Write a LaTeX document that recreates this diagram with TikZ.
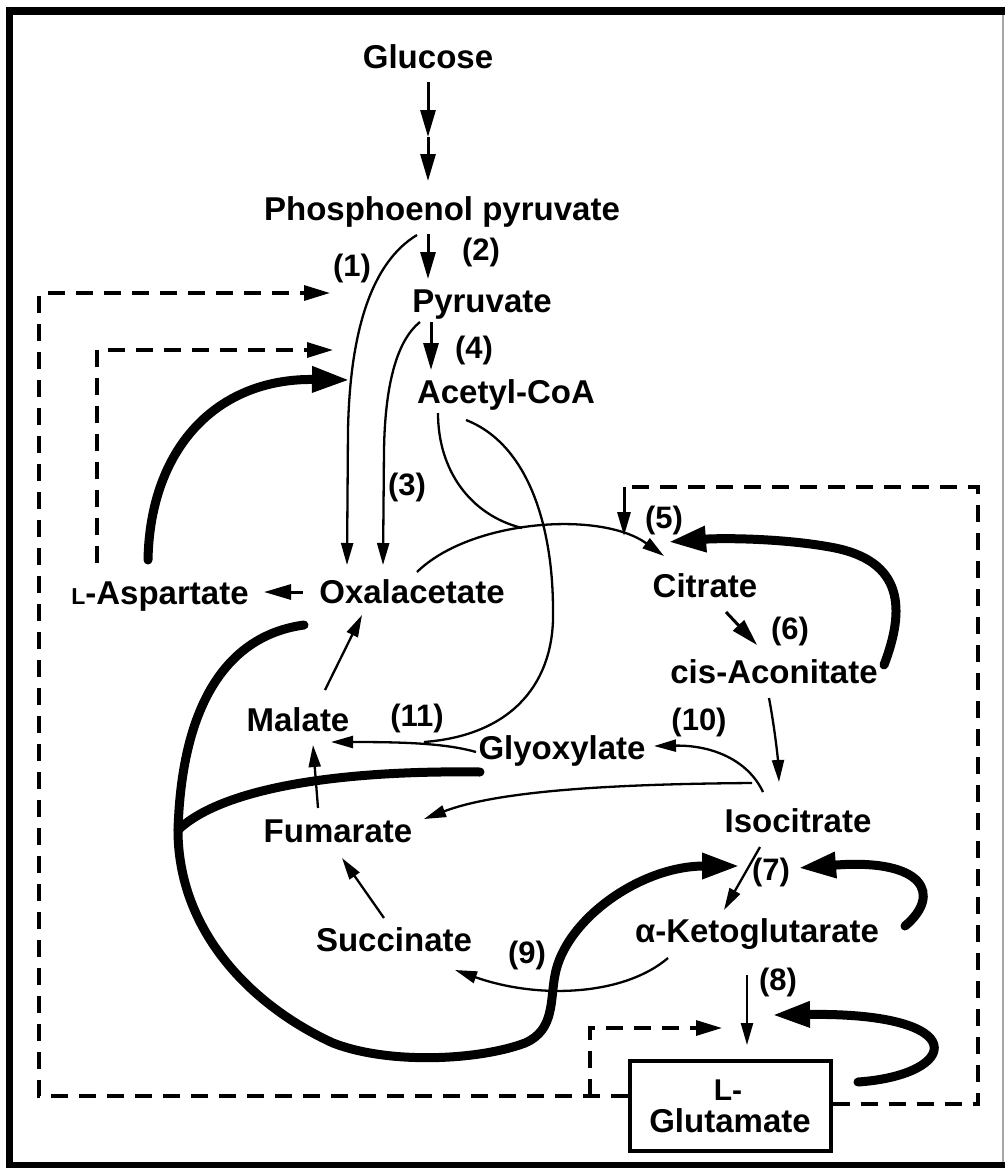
\documentclass[tikz,border=0pt]{standalone}
\usepackage{fontspec}
\setmainfont{Liberation Sans}
\usetikzlibrary{arrows.meta}
\begin{document}
\begin{tikzpicture}[x=1pt,y=-1pt,
  metab/.style={font=\fontsize{33}{36}\selectfont\bfseries, inner sep=0pt, anchor=base},
  lab/.style={font=\fontsize{31}{34}\selectfont\bfseries, inner sep=0pt},
  thinln/.style={line width=2.3pt},
  arr/.style={thinln, -{Triangle[length=22pt,width=12pt]}},
  bigarr/.style={line width=3pt, -{Triangle[length=27pt,width=15pt]}},
  heavy/.style={line width=9pt, line cap=round},
  heavyarr/.style={heavy, -{Triangle[length=38pt,width=24pt]}},
  dashline/.style={line width=3.2pt, dash pattern=on 17pt off 11pt},
  dasharr/.style={dashline, -{Triangle[length=26pt,width=15pt]}}
]
\useasboundingbox (0,0) rectangle (1005,1168);
% frame
\fill[white] (0,0) rectangle (1005,1168);
\fill[black] (6,7) rectangle (1005,15);
\fill[black] (6,7) rectangle (13,1168);
\fill[black] (6,1162) rectangle (1005,1168);
\draw[black!35, line width=2pt] (1003,15) -- (1003,1162);

% metabolites
\node[metab] (glucose) at (428,68) {Glucose};
\node[metab] (pep) at (442,220) {Phosphoenol pyruvate};
\node[metab] (pyr) at (482,312) {Pyruvate};
\node[metab] (acoa) at (506,403) {Acetyl-CoA};
\node[metab] (oxal) at (412,603) {Oxalacetate};
\node[metab] (asp) at (160,604) {{\fontsize{23}{25}\selectfont L}-Aspartate};
\node[metab] (cit) at (705,597) {Citrate};
\node[metab] (cis) at (774,683) {cis-Aconitate};
\node[metab] (mal) at (298,731) {Malate};
\node[metab] (glyox) at (562,759) {Glyoxylate};
\node[metab] (fum) at (338,842) {Fumarate};
\node[metab] (iso) at (798,832) {Isocitrate};
\node[metab] (succ) at (394,951) {Succinate};
\node[metab] (akg) at (757,942) {α-Ketoglutarate};
\node[draw, line width=4pt, minimum width=201pt, minimum height=90pt, inner sep=0pt] (glut) at (730,1106) {};
\node[anchor=base, inner sep=0pt, font=\fontsize{30}{32}\selectfont\bfseries] (glutL) at (728,1100) {L-};
\node[metab] (glutG) at (730,1132) {Glutamate};

% reaction labels
\node[lab] (r1) at (352,268) {(1)};
\node[lab] (r2) at (481,252) {(2)};
\node[lab] (r3) at (407,487) {(3)};
\node[lab] (r4) at (474,350) {(4)};
\node[lab] (r5) at (664,520) {(5)};
\node[lab] (r6) at (790,631) {(6)};
\node[lab] (r7) at (771,872) {(7)};
\node[lab] (r8) at (778,982) {(8)};
\node[lab] (r9) at (527,955) {(9)};
\node[lab] (r10) at (699,722) {(10)};
\node[lab] (r11) at (417,718) {(11)};

% coordinates
\coordinate (g0) at (428,82);
\coordinate (g1) at (428,137);
\coordinate (g2) at (428,181);
\coordinate (pepS) at (428,234);
\coordinate (pyrN) at (428,279);
\coordinate (pyrS) at (431,322);
\coordinate (acoaN) at (431,370);
\coordinate (pepL) at (417,235);
\coordinate (pyrL) at (420,322);
\coordinate (oxN1) at (347,565);
\coordinate (oxN2) at (383,565);
\coordinate (oxE) at (303,592);
\coordinate (aspE) at (264,592);
\coordinate (oxR) at (417,572);
\coordinate (citW) at (664,556);
\coordinate (acoaS) at (438,413);
\coordinate (join5) at (522,528);
\coordinate (acoaS2) at (466,420);
\coordinate (join11) at (424,742);
\coordinate (glyoxW) at (476,752);
\coordinate (malE) at (331,742);
\coordinate (malN) at (325,690);
\coordinate (oxS) at (362,615);
\coordinate (fumN) at (318,808);
\coordinate (malS) at (313,745);
\coordinate (succN) at (384,918);
\coordinate (fumS) at (342,858);
\coordinate (citS) at (726,612);
\coordinate (cisN) at (757,645);
\coordinate (cisS) at (769,698);
\coordinate (isoN) at (779,782);
\coordinate (isoW) at (763,792);
\coordinate (isoW2) at (752,783);
\coordinate (glyoxE) at (654,746);
\coordinate (fumE) at (424,819);
\coordinate (isoS) at (760,847);
\coordinate (akgN) at (724,910);
\coordinate (akgW) at (668,958);
\coordinate (succE) at (455,970);
\coordinate (akgS) at (747,975);
\coordinate (glutN) at (747,1045);

% main chain
\draw[bigarr] (g0) -- (g1);
\draw[bigarr] (g1) -- (g2);
\draw[bigarr] (pepS) -- (pyrN);
\draw[bigarr] (pyrS) -- (acoaN);

% thin arrows
\draw[arr] (pepL) .. controls (372,262) and (350,330) .. (348,430) -- (oxN1);
\draw[arr] (pyrL) .. controls (395,342) and (385,390) .. (384,450) -- (oxN2);
\draw[bigarr] (oxE) -- (aspE);
\draw[arr] (oxR) .. controls (470,520) and (600,510) .. (citW);
\draw[thinln] (acoaS) .. controls (438,470) and (470,515) .. (join5);
\draw[thinln] (acoaS2) .. controls (530,445) and (553,530) .. (553,610) .. controls (555,680) and (515,735) .. (join11);
\draw[arr] (glyoxW) .. controls (445,743) and (400,742) .. (malE);
\draw[arr] (malN) -- (oxS);
\draw[arr] (fumN) -- (malS);
\draw[arr] (succN) -- (fumS);
\draw[bigarr] (citS) -- (cisN);
\draw[arr] (cisS) .. controls (775,730) and (778,760) .. (isoN);
\draw[arr] (isoW) .. controls (748,760) and (712,745) .. (glyoxE);
\draw[arr] (isoW2) .. controls (620,784) and (500,790) .. (fumE);
\draw[arr] (isoS) -- (akgN);
\draw[arr] (akgW) .. controls (625,995) and (540,1000) .. (succE);
\draw[arr] (akgS) -- (glutN);

% heavy regulatory arrows
\coordinate (aspT) at (148,560);
\coordinate (aspH) at (350,380);
\draw[heavyarr] (aspT) .. controls (150,450) and (215,378) .. (aspH);
\coordinate (loopT) at (304,625);
\coordinate (loopJ) at (178,830);
\coordinate (loopH) at (740,866);
\draw[heavyarr] (loopT) .. controls (230,635) and (182,700) .. (loopJ)
  .. controls (178,930) and (250,1005) .. (333,1043)
  .. controls (390,1065) and (480,1060) .. (525,1043)
  .. controls (555,1030) and (550,1000) .. (555,975)
  .. controls (565,920) and (640,866) .. (loopH);
\coordinate (brT) at (480,772);
\draw[heavy] (brT) .. controls (330,770) and (220,790) .. (loopJ);
\coordinate (cisT) at (884,665);
\coordinate (cisH) at (668,542);
\draw[heavyarr] (cisT) .. controls (905,610) and (905,560) .. (830,547) .. controls (780,538) and (720,538) .. (cisH);
\coordinate (akgT) at (905,926);
\coordinate (akgH) at (798,868);
\draw[heavyarr] (akgT) .. controls (942,895) and (925,858) .. (akgH);
\coordinate (glutT) at (858,1082);
\coordinate (glutH) at (772,1015);
\draw[heavyarr] (glutT) .. controls (960,1075) and (975,1012) .. (glutH);

% dashed control lines
\coordinate (oA) at (330,293);
\coordinate (iA) at (333,350);
\draw[dasharr] (glut.west |- 0,1096) -- (39,1096) -- (39,293) -- (oA);
\draw[dasharr] (97,563) -- (97,350) -- (iA);
\draw[dashline] (glut.east |- 0,1104) -- (978,1104) -- (978,487) -- (624,487);
\draw[line width=3pt, -{Triangle[length=24pt,width=13pt]}] (624,487) -- (624,536);
\coordinate (sA) at (722,1028);
\draw[dasharr] (590,1096) -- (590,1028) -- (sA);
\end{tikzpicture}
\end{document}
